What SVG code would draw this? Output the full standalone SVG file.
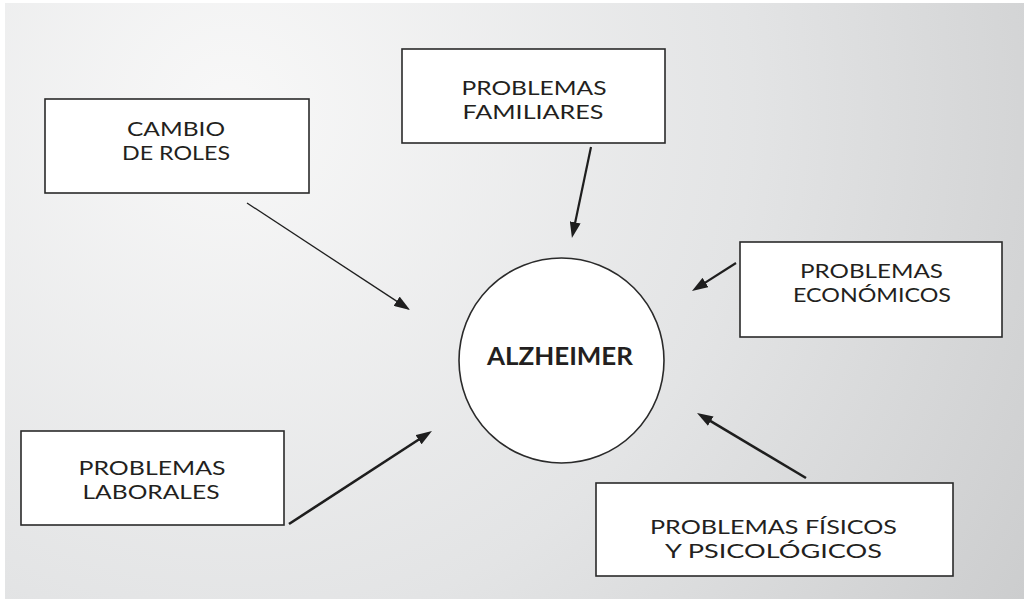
<svg xmlns="http://www.w3.org/2000/svg" width="1024" height="599" viewBox="0 0 1024 599">
  <defs>
    <radialGradient id="bg" gradientUnits="userSpaceOnUse" cx="230" cy="110" r="950">
      <stop offset="0" stop-color="#f8f8f8"/>
      <stop offset="0.55" stop-color="#e3e4e5"/>
      <stop offset="1" stop-color="#cbcccd"/>
    </radialGradient>
    <marker id="head" markerUnits="userSpaceOnUse" markerWidth="16" markerHeight="11" refX="4" refY="5.5" orient="auto">
      <path d="M0,0 L16,5.5 L0,11 z" fill="#1e1e1e"/>
    </marker>
    <style>
      .box { fill: #ffffff; stroke: #2a2a2a; stroke-width: 1.6; }
      .lbl { font-family: Lato, "Open Sans", "Liberation Sans", sans-serif; font-size: 20px; font-weight: 400; fill: #231f20; text-anchor: middle; }
      .bold { font-weight: bold; font-size: 24px; }
      .arrow { fill: none; stroke: #1e1e1e; stroke-width: 2.2; marker-end: url(#head); }
    </style>
  </defs>

  <rect x="0" y="0" width="1024" height="599" fill="#ffffff"/>
  <rect x="5" y="3" width="1019" height="596" fill="url(#bg)"/>

  <!-- connectors -->
  <g id="connectors">
    <path class="arrow" style="stroke-width:1.3" d="M247,203 L400,303.4"/>
    <path class="arrow" d="M591,147 L574.4,226.3"/>
    <path class="arrow" d="M736,263 L702.1,284.6"/>
    <path class="arrow" style="stroke-width:2.6" d="M289,524 L421.9,437.5"/>
    <path class="arrow" style="stroke-width:2.6" d="M806,478 L707.3,419.1"/>
  </g>

  <g id="alzheimer">
    <circle class="box" cx="561.5" cy="360.5" r="102.5"/>
    <text class="lbl bold" x="560" y="365" textLength="146" lengthAdjust="spacingAndGlyphs">ALZHEIMER</text>
  </g>

  <g id="cambio-roles">
    <rect class="box" x="45" y="99" width="264" height="94"/>
    <text class="lbl" x="176" y="136" textLength="98" lengthAdjust="spacingAndGlyphs">CAMBIO</text>
    <text class="lbl" x="176" y="160" textLength="108" lengthAdjust="spacingAndGlyphs">DE ROLES</text>
  </g>

  <g id="problemas-familiares">
    <rect class="box" x="402" y="49" width="263" height="94"/>
    <text class="lbl" x="534" y="95" textLength="145" lengthAdjust="spacingAndGlyphs">PROBLEMAS</text>
    <text class="lbl" x="533" y="119" textLength="141" lengthAdjust="spacingAndGlyphs">FAMILIARES</text>
  </g>

  <g id="problemas-economicos">
    <rect class="box" x="740" y="242" width="262" height="95"/>
    <text class="lbl" x="871.5" y="278" textLength="143" lengthAdjust="spacingAndGlyphs">PROBLEMAS</text>
    <text class="lbl" x="872" y="302" textLength="158" lengthAdjust="spacingAndGlyphs">ECONÓMICOS</text>
  </g>

  <g id="problemas-laborales">
    <rect class="box" x="21" y="431" width="263" height="94"/>
    <text class="lbl" x="152" y="475" textLength="147" lengthAdjust="spacingAndGlyphs">PROBLEMAS</text>
    <text class="lbl" x="151" y="499" textLength="137" lengthAdjust="spacingAndGlyphs">LABORALES</text>
  </g>

  <g id="problemas-fisicos">
    <rect class="box" x="596" y="483" width="357" height="93"/>
    <text class="lbl" x="773.5" y="534" textLength="247" lengthAdjust="spacingAndGlyphs">PROBLEMAS FÍSICOS</text>
    <text class="lbl" x="773.5" y="558" textLength="217" lengthAdjust="spacingAndGlyphs">Y PSICOLÓGICOS</text>
  </g>
</svg>
